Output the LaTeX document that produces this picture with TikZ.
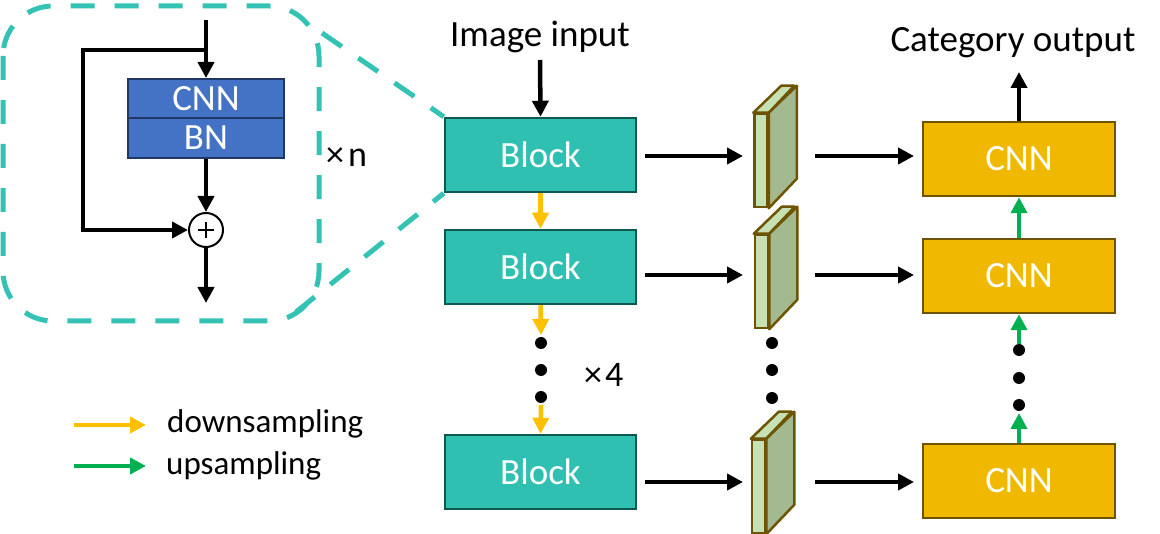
\documentclass[tikz,border=0pt]{standalone}
\usepackage{fontspec}
\setmainfont{Carlito}
\usetikzlibrary{arrows.meta}
\definecolor{tealfill}{HTML}{30C0B2}
\definecolor{tealedge}{HTML}{0F574F}
\definecolor{dashc}{HTML}{33C2B3}
\definecolor{bluefill}{HTML}{4472C4}
\definecolor{blueedge}{HTML}{1F3864}
\definecolor{goldfill}{HTML}{F1B800}
\definecolor{goldedge}{HTML}{6E5400}
\definecolor{pfront}{HTML}{C6E2B5}
\definecolor{pside}{HTML}{A3B98F}
\definecolor{orangec}{HTML}{FFC000}
\definecolor{greenc}{HTML}{00B050}
\begin{document}
\begin{tikzpicture}[x=1pt,y=-1pt,
  bigfont/.style={font=\fontsize{37}{40}\selectfont},
  smallfont/.style={font=\fontsize{33}{38}\selectfont},
  multfont/.style={font=\fontsize{36}{40}\selectfont},
  blockbox/.style={draw=tealedge, fill=tealfill, line width=2.5pt, minimum width=191pt, minimum height=74pt, inner sep=0pt, text=white, bigfont},
  cnnbox/.style={draw=goldedge, fill=goldfill, line width=2.5pt, minimum width=192pt, minimum height=74pt, inner sep=0pt, text=white, bigfont},
  bluebox/.style={draw=blueedge, fill=bluefill, line width=2pt, minimum width=156pt, inner sep=0pt, text=white, bigfont},
  prismfront/.style={draw=goldedge, fill=pfront, line width=2.5pt, minimum width=13pt, minimum height=93pt, inner sep=0pt},
  prismface/.style={draw=goldedge, line width=2.5pt, line join=round},
  arr/.style={line width=4.5pt, -{Triangle[length=16pt,width=16pt]}},
  dashline/.style={draw=dashc, line width=5pt, dash pattern=on 24pt off 20pt},
  dotnode/.style={circle, fill=black, minimum size=12pt, inner sep=0pt},
  txt/.style={inner sep=0pt, anchor=base}
]
\useasboundingbox (0,0) rectangle (1160,534);

% ---------- inset ----------
\draw[dashline, rounded corners=50pt] (3,6) rectangle (319,321);
\node[bluebox, minimum height=39pt] (cnn) at (206,98.5) {CNN};
\node[bluebox, minimum height=40pt] (bn) at (206,138) {BN};
\node[circle, draw, line width=2pt, minimum size=34pt, inner sep=0pt] (plus) at (206,230) {};
\draw[line width=2pt] ([xshift=-8pt]plus.center) -- ([xshift=8pt]plus.center);
\draw[line width=2pt] ([yshift=-8pt]plus.center) -- ([yshift=8pt]plus.center);
\coordinate (inA) at (206,20);
\coordinate (skA) at (206,50);
\coordinate (outA) at (206,303);
\draw[arr] (inA) -- (cnn.north);
\draw[arr] (skA) -- (83,50) -- (83,230) -- (plus.west);
\draw[arr] (bn.south) -- (plus.north);
\draw[arr] (plus.south) -- (outA);
\node[txt, anchor=base west, multfont] (xn) at (326,167) {×\kern4pt n};

% ---------- blocks ----------
\node[blockbox] (b1) at (540.5,155) {Block};
\node[blockbox] (b2) at (540.5,267) {Block};
\node[blockbox] (b3) at (540.5,472) {Block};
\coordinate (insT) at (322,33);
\coordinate (insB) at (296,312);
\draw[dashline] (insT) -- (b1.north west);
\draw[dashline] (insB) -- (b1.south west);

\node[txt, bigfont] (imgin) at (540,47) {Image input};
\coordinate (imgA) at (540,60);
\draw[arr] (imgA) -- (b1.north);

\node[dotnode] (bd1) at (541,343) {};
\node[dotnode] (bd2) at (541,370) {};
\node[dotnode] (bd3) at (541,397) {};
\coordinate (bdA) at (541,335);
\coordinate (bdB) at (541,405);
\draw[arr, draw=orangec] (b1.south) -- (b2.north);
\draw[arr, draw=orangec] (b2.south) -- (bdA);
\draw[arr, draw=orangec] (bdB) -- (b3.north);
\node[txt, anchor=base west, multfont] (x4) at (584,387) {×\kern3pt 4};

% ---------- prisms ----------
\foreach \n/\x/\y in {p1/761/160.5, p2/761.5/281.5, p3/758.5/486.5}{
  \node[prismfront] (\n) at (\x,\y) {};
  \draw[prismface, fill=pfront] (\n.north west) -- ++(28,-27) -- ++(13,0) -- (\n.north east) -- cycle;
  \draw[prismface, fill=pside] (\n.north east) -- ++(28,-27) -- ++(0,93) -- (\n.south east) -- cycle;
}
\node[dotnode] (pd1) at (772,343) {};
\node[dotnode] (pd2) at (772,370) {};
\node[dotnode] (pd3) at (772,398) {};

% ---------- CNN column ----------
\node[cnnbox] (c1) at (1019,159) {CNN};
\node[cnnbox] (c2) at (1019,276) {CNN};
\node[cnnbox] (c3) at (1019,481) {CNN};
\node[dotnode] (cd1) at (1019,350) {};
\node[dotnode] (cd2) at (1019,378) {};
\node[dotnode] (cd3) at (1019,405) {};
\coordinate (cdA) at (1019,344);
\coordinate (cdB) at (1019,413);
\draw[arr, draw=greenc] (c2.north) -- (c1.south);
\draw[arr, draw=greenc] (cdA) -- (c2.south);
\draw[arr, draw=greenc] (c3.north) -- (cdB);
\coordinate (catA) at (1019,72);
\draw[arr] (c1.north) -- (catA);
\node[txt, bigfont] (catout) at (1013,52) {Category output};

% ---------- horizontal arrows ----------
\foreach \r/\y in {1/156, 2/275, 3/482}{
  \coordinate (hs\r) at (645,\y);
  \coordinate (he\r) at (743,\y);
  \coordinate (ks\r) at (815,\y);
  \coordinate (ke\r) at (914,\y);
  \draw[arr] (hs\r) -- (he\r);
  \draw[arr] (ks\r) -- (ke\r);
}

% ---------- legend ----------
\coordinate (l1s) at (74,425);
\coordinate (l1e) at (146,425);
\coordinate (l2s) at (74,466);
\coordinate (l2e) at (146,466);
\draw[arr, draw=orangec] (l1s) -- (l1e);
\draw[arr, draw=greenc] (l2s) -- (l2e);
\node[txt, anchor=base west, smallfont] (lt1) at (167,433) {downsampling};
\node[txt, anchor=base west, smallfont] (lt2) at (166,475) {upsampling};
\end{tikzpicture}
\end{document}
